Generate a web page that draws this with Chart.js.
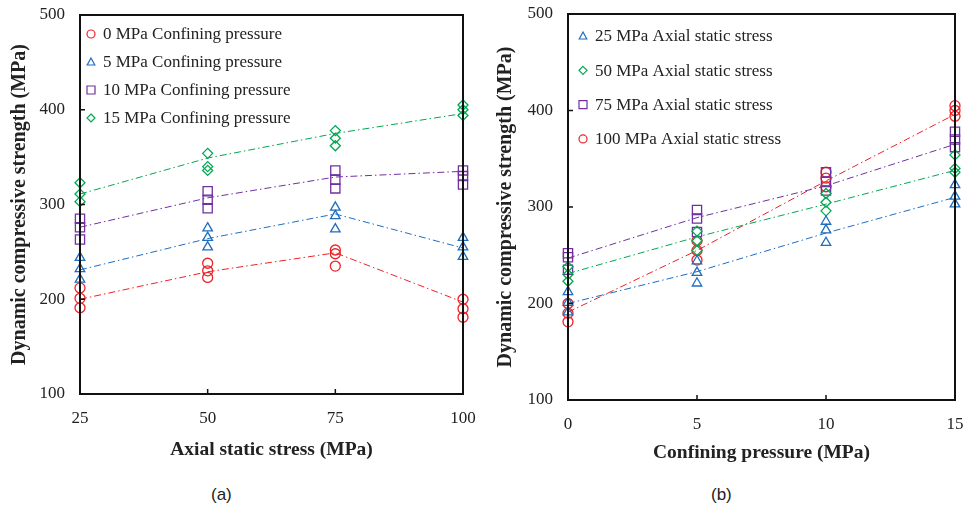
<!DOCTYPE html>
<html>
<head>
<meta charset="utf-8">
<script src="https://cdn.jsdelivr.net/npm/chart.js@4.4.0/dist/chart.umd.min.js"></script>
<style>
  body { margin: 0; background: #fff; width: 968px; height: 512px; position: relative; overflow: hidden; }
  #left { position: absolute; left: 0; top: 0; width: 480px; height: 470px; }
  #right { position: absolute; left: 480px; top: 0; width: 488px; height: 470px; }
  .cap { position: absolute; top: 485px; font: 17px "Liberation Sans", Arial, sans-serif; color: #222; }
</style>
</head>
<body>
<canvas id="left" width="480" height="470"></canvas>
<canvas id="right" width="488" height="470"></canvas>
<div class="cap" style="left:211px">(a)</div>
<div class="cap" style="left:711px">(b)</div>
<script>
const axialStress = [25, 50, 75, 100];
const confiningPressure = [0, 5, 10, 15];

// strength (MPa), three specimens per axial stress level
const cp0 = [[212, 201, 191], [238, 230, 223], [252, 248, 235], [200, 190, 181]];
const cp5 = [[244, 232, 221], [275, 265, 255], [297, 288, 274], [265, 255, 245]];
const cp10 = [[285, 276, 263], [314, 305, 296], [336, 326, 317], [336, 330, 321]];
const cp15 = [[323, 311, 303], [354, 340, 336], [378, 370, 362], [405, 400, 394]];

// dash-dot trend lines as drawn
const trendCp0 = [200, 229, 249, 197];
const trendCp5 = [231, 264, 290, 254];
const trendCp10 = [276, 307, 329, 335];
const trendCp15 = [311, 349, 375, 396];
const trendAs25 = [200, 233, 273, 310];
const trendAs50 = [231, 269, 303, 338];
const trendAs75 = [247, 289, 322, 365];
const trendAs100 = [191, 255, 327, 396];

const red = '#ec2227', blue = '#1f6dbf', purple = '#7030a0', green = '#00a850';
const serif = '"Liberation Serif", "Times New Roman", serif';

function points(xs, groups) {
  const out = [];
  groups.forEach((g, i) => g.forEach(v => out.push({ x: xs[i], y: v })));
  return out;
}
function line(xs, ys) {
  return ys.map((v, i) => ({ x: xs[i], y: v }));
}
function markers(label, data, color, style, r) {
  return { label, data, borderColor: color, backgroundColor: 'transparent', pointStyle: style,
    pointRadius: r, pointBorderWidth: 1.3, showLine: false, clip: false };
}
function trend(data, color) {
  return { data, borderColor: color, borderWidth: 1, borderDash: [7, 3, 1.5, 3],
    pointRadius: 0, showLine: true, clip: false };
}

function drawMarker(ctx, style, x, y, r, color) {
  ctx.strokeStyle = color;
  ctx.lineWidth = 1.2;
  ctx.beginPath();
  if (style === 'circle') ctx.arc(x, y, r, 0, Math.PI * 2);
  if (style === 'triangle') { ctx.moveTo(x, y - r); ctx.lineTo(x + r * 0.95, y + r * 0.75); ctx.lineTo(x - r * 0.95, y + r * 0.75); ctx.closePath(); }
  if (style === 'rect') ctx.rect(x - r, y - r, 2 * r, 2 * r);
  if (style === 'rectRot') { ctx.moveTo(x, y - r); ctx.lineTo(x + r, y); ctx.lineTo(x, y + r); ctx.lineTo(x - r, y); ctx.closePath(); }
  ctx.stroke();
}

const insideLegend = {
  id: 'insideLegend',
  afterDraw(chart, args, opts) {
    const ctx = chart.ctx, a = chart.chartArea;
    ctx.save();
    ctx.font = '17px ' + serif;
    ctx.textBaseline = 'middle';
    chart.data.datasets.filter(d => !d.showLine).forEach((d, i) => {
      const x = a.left + opts.left, y = a.top + opts.top + i * opts.gap;
      drawMarker(ctx, d.pointStyle, x, y, 4, d.borderColor);
      ctx.fillStyle = '#222';
      ctx.fillText(d.label, x + 12, y + 1);
    });
    ctx.restore();
  }
};

const frame = {
  id: 'frame',
  afterDatasetsDraw(chart) {
    const { ctx, chartArea: a, scales } = chart;
    ctx.save();
    ctx.strokeStyle = '#111';
    ctx.lineWidth = 2;
    ctx.strokeRect(a.left, a.top, a.right - a.left, a.bottom - a.top);
    ctx.lineWidth = 1.5;
    ctx.beginPath();
    scales.x.ticks.forEach(t => {
      const px = scales.x.getPixelForValue(t.value);
      ctx.moveTo(px, a.bottom); ctx.lineTo(px, a.bottom - 5);
    });
    scales.y.ticks.forEach(t => {
      const py = scales.y.getPixelForValue(t.value);
      ctx.moveTo(a.left, py); ctx.lineTo(a.left + 5, py);
    });
    ctx.stroke();
    ctx.restore();
  }
};

function makeChart(id, datasets, xTitle, xMin, xMax, xStep, lay) {
  return new Chart(document.getElementById(id), {
    type: 'scatter',
    data: { datasets },
    options: {
      responsive: false,
      animation: false,
      layout: { padding: { top: lay.top, right: lay.right, left: 0, bottom: 0 } },
      plugins: {
        legend: { display: false },
        tooltip: { enabled: false },
        insideLegend: lay.legend
      },
      scales: {
        x: {
          min: xMin, max: xMax,
          grid: { display: false }, border: { display: false },
          ticks: { stepSize: xStep, color: '#222', padding: 6, font: { family: serif, size: 17 } },
          title: { display: true, text: xTitle, color: '#222', padding: { top: 0, bottom: lay.xTitlePad },
            font: { family: serif, size: 19.5, weight: 'bold' } },
          afterFit: s => { s.height = lay.xHeight; s.paddingLeft = 0; s.paddingRight = 0; }
        },
        y: {
          min: 100, max: 500,
          grid: { display: false }, border: { display: false },
          ticks: { stepSize: 100, color: '#222', padding: 7, font: { family: serif, size: 17 } },
          title: { display: true, text: 'Dynamic compressive strength (MPa)', color: '#222',
            padding: { top: lay.yTitlePad, bottom: 0 }, font: { family: serif, size: 20, weight: 'bold' } },
          afterFit: s => { s.width = lay.yWidth; s.paddingTop = 0; s.paddingBottom = 0; }
        }
      }
    },
    plugins: [frame, insideLegend]
  });
}

makeChart('left', [
  trend(line(axialStress, trendCp0), red),
  trend(line(axialStress, trendCp5), blue),
  trend(line(axialStress, trendCp10), purple),
  trend(line(axialStress, trendCp15), green),
  markers('0 MPa Confining pressure', points(axialStress, cp0), red, 'circle', 5),
  markers('5 MPa Confining pressure', points(axialStress, cp5), blue, 'triangle', 5.5),
  markers('10 MPa Confining pressure', points(axialStress, cp10), purple, 'rect', 6.5),
  markers('15 MPa Confining pressure', points(axialStress, cp15), green, 'rectRot', 5)
], 'Axial static stress (MPa)', 25, 100, 25,
  { top: 15, right: 17, yWidth: 80, xHeight: 76, xTitlePad: 8, yTitlePad: 8, legend: { left: 11, top: 19, gap: 28 } });

const byAxial = j => [cp0[j], cp5[j], cp10[j], cp15[j]];

makeChart('right', [
  trend(line(confiningPressure, trendAs25), blue),
  trend(line(confiningPressure, trendAs50), green),
  trend(line(confiningPressure, trendAs75), purple),
  trend(line(confiningPressure, trendAs100), red),
  markers('25 MPa Axial static stress', points(confiningPressure, byAxial(0)), blue, 'triangle', 5.5),
  markers('50 MPa Axial static stress', points(confiningPressure, byAxial(1)), green, 'rectRot', 5),
  markers('75 MPa Axial static stress', points(confiningPressure, byAxial(2)), purple, 'rect', 6.5),
  markers('100 MPa Axial static stress', points(confiningPressure, byAxial(3)), red, 'circle', 5)
], 'Confining pressure (MPa)', 0, 15, 5,
  { top: 14, right: 13, yWidth: 88, xHeight: 70, xTitlePad: 5, yTitlePad: 14, legend: { left: 15, top: 22, gap: 34.3 } });
</script>
</body>
</html>
